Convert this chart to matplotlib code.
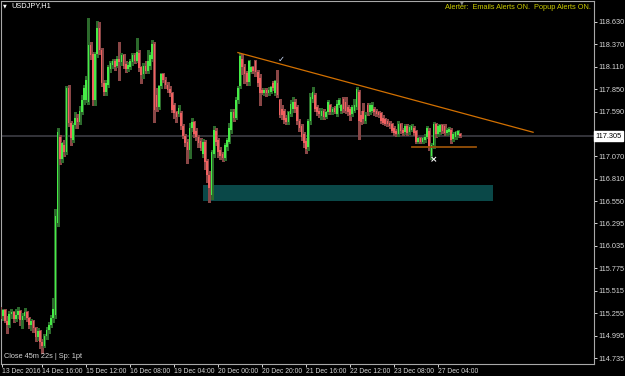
#!/usr/bin/env python3
"""plot.py - USDJPY H1 candles with a trendline, a support line and a zone (MT4 look).

Writes out.png (625x376).
"""
import matplotlib
matplotlib.use("Agg")
import matplotlib.pyplot as plt
from matplotlib.patches import Rectangle

SYMBOL = "USDJPY,H1"
ALERT_TEXT = "Alerter:  Emails Alerts ON.  Popup Alerts ON."
STATUS_TEXT = "Close 45m 22s | Sp: 1pt"

# one row of ten bars per line, oldest first
OPENS = [
    115.28, 115.22, 115.29, 115.17, 115.12, 115.25, 115.27, 115.19, 115.24, 115.28,
    115.18, 115.22, 115.27, 115.20, 115.12, 115.16, 115.09, 114.98, 115.05, 114.92,
    114.88, 114.99, 115.06, 115.12, 115.20, 115.24, 116.30, 117.30, 117.04, 117.20,
    117.12, 117.86, 117.46, 117.26, 117.43, 117.52, 117.47, 117.58, 117.72, 117.72,
    117.70, 118.36, 118.26, 117.72, 118.26, 118.56, 118.30, 117.92, 117.82, 117.90,
    118.08, 118.13, 118.17, 118.12, 118.20, 118.16, 118.24, 118.14, 118.08, 118.11,
    118.16, 118.24, 118.18, 118.27, 118.10, 118.02, 118.12, 118.06, 118.12, 118.20,
    118.37, 117.78, 117.64, 117.88, 118.02, 117.96, 117.90, 117.85, 117.80, 117.66,
    117.58, 117.56, 117.57, 117.42, 117.31, 117.24, 117.15, 117.40, 117.47, 117.36,
    117.30, 117.25, 117.10, 117.24, 117.02, 116.86, 116.62, 117.10, 117.36, 117.26,
    117.14, 117.10, 117.05, 117.18, 117.24, 117.38, 117.58, 117.52, 117.72, 117.88,
    118.20, 118.10, 118.04, 117.93, 118.05, 118.10, 118.18, 118.05, 117.98, 117.84,
    117.80, 117.84, 117.80, 117.82, 117.92, 117.80, 117.92, 117.72, 117.62, 117.60,
    117.52, 117.47, 117.56, 117.62, 117.70, 117.64, 117.48, 117.42, 117.33, 117.25,
    117.18, 117.48, 117.74, 117.78, 117.64, 117.60, 117.54, 117.60, 117.53, 117.58,
    117.66, 117.58, 117.63, 117.56, 117.66, 117.60, 117.74, 117.70, 117.64, 117.62,
    117.56, 117.60, 117.64, 117.82, 117.55, 117.60, 117.48, 117.66, 117.58, 117.60,
    117.62, 117.60, 117.58, 117.57, 117.52, 117.50, 117.48, 117.46, 117.44, 117.40,
    117.37, 117.33, 117.44, 117.38, 117.35, 117.42, 117.35, 117.38, 117.40, 117.36,
    117.24, 117.28, 117.24, 117.26, 117.30, 117.36, 117.08, 117.20, 117.44, 117.33,
    117.35, 117.43, 117.42, 117.34, 117.35, 117.38, 117.27, 117.29, 117.32, 117.33,
]
HIGHS = [
    115.33, 115.31, 115.30, 115.22, 115.28, 115.30, 115.28, 115.30, 115.33, 115.29,
    115.26, 115.32, 115.28, 115.21, 115.19, 115.18, 115.10, 115.08, 115.06, 114.96,
    115.02, 115.10, 115.15, 115.24, 115.43, 116.46, 117.40, 117.32, 117.24, 117.26,
    117.88, 117.90, 117.48, 117.46, 117.58, 117.56, 117.65, 117.78, 117.90, 118.00,
    118.67, 118.40, 118.28, 118.28, 118.64, 118.63, 118.32, 117.96, 117.96, 118.13,
    118.18, 118.20, 118.20, 118.23, 118.40, 118.27, 118.26, 118.17, 118.16, 118.20,
    118.27, 118.27, 118.44, 118.30, 118.12, 118.15, 118.17, 118.30, 118.28, 118.42,
    118.39, 117.86, 117.90, 118.04, 118.04, 117.99, 117.93, 117.88, 117.82, 117.69,
    117.60, 117.67, 117.60, 117.44, 117.33, 117.27, 117.46, 117.52, 117.48, 117.40,
    117.32, 117.28, 117.27, 117.26, 117.04, 116.90, 117.15, 117.42, 117.40, 117.28,
    117.18, 117.12, 117.22, 117.28, 117.46, 117.62, 117.62, 117.76, 117.88, 118.27,
    118.25, 118.14, 118.06, 118.19, 118.12, 118.12, 118.19, 118.07, 118.02, 117.86,
    117.86, 117.86, 117.87, 117.89, 117.94, 117.96, 118.07, 117.74, 117.66, 117.62,
    117.55, 117.60, 117.72, 117.76, 117.74, 117.66, 117.50, 117.45, 117.35, 117.28,
    117.50, 117.80, 117.87, 117.80, 117.67, 117.63, 117.63, 117.62, 117.60, 117.72,
    117.68, 117.64, 117.65, 117.72, 117.75, 117.68, 117.76, 117.76, 117.66, 117.64,
    117.66, 117.74, 117.87, 117.84, 117.60, 117.69, 117.58, 117.69, 117.69, 117.70,
    117.64, 117.62, 117.60, 117.59, 117.55, 117.52, 117.50, 117.48, 117.46, 117.42,
    117.39, 117.48, 117.46, 117.40, 117.44, 117.44, 117.43, 117.44, 117.42, 117.38,
    117.30, 117.30, 117.30, 117.33, 117.42, 117.40, 117.22, 117.47, 117.46, 117.45,
    117.45, 117.45, 117.44, 117.40, 117.41, 117.40, 117.35, 117.37, 117.38, 117.34,
]
LOWS = [
    115.20, 115.18, 115.15, 115.03, 115.10, 115.20, 115.15, 115.16, 115.20, 115.12,
    115.08, 115.19, 115.17, 115.08, 115.06, 115.04, 114.93, 114.94, 114.85, 114.80,
    114.86, 114.96, 115.03, 115.10, 115.15, 115.20, 116.27, 116.98, 117.00, 117.08,
    117.10, 117.42, 117.20, 117.24, 117.40, 117.40, 117.45, 117.56, 117.68, 117.70,
    117.68, 118.20, 117.66, 117.66, 118.22, 118.26, 117.88, 117.78, 117.78, 117.87,
    118.05, 118.09, 118.07, 118.10, 117.96, 118.13, 118.09, 118.05, 118.06, 118.08,
    118.13, 118.15, 118.16, 118.06, 117.92, 117.98, 118.03, 118.04, 118.08, 118.17,
    117.47, 117.60, 117.62, 117.86, 117.93, 117.86, 117.82, 117.77, 117.58, 117.52,
    117.47, 117.54, 117.39, 117.28, 117.19, 116.99, 117.05, 117.36, 117.30, 117.26,
    117.18, 117.15, 117.06, 116.92, 116.78, 116.54, 116.58, 117.06, 117.20, 117.06,
    117.04, 117.02, 117.03, 117.14, 117.22, 117.34, 117.48, 117.50, 117.69, 117.86,
    118.02, 117.92, 117.90, 117.90, 118.03, 118.04, 118.00, 117.88, 117.66, 117.79,
    117.78, 117.77, 117.78, 117.80, 117.84, 117.78, 117.76, 117.53, 117.50, 117.46,
    117.44, 117.45, 117.54, 117.58, 117.58, 117.45, 117.36, 117.26, 117.18, 117.11,
    117.15, 117.45, 117.70, 117.60, 117.55, 117.53, 117.50, 117.50, 117.51, 117.56,
    117.56, 117.56, 117.57, 117.54, 117.64, 117.57, 117.58, 117.57, 117.55, 117.49,
    117.54, 117.58, 117.62, 117.27, 117.44, 117.46, 117.46, 117.55, 117.56, 117.58,
    117.55, 117.54, 117.53, 117.46, 117.44, 117.43, 117.42, 117.40, 117.35, 117.32,
    117.31, 117.31, 117.34, 117.32, 117.33, 117.32, 117.33, 117.36, 117.32, 117.22,
    117.22, 117.22, 117.22, 117.24, 117.28, 117.14, 117.04, 117.17, 117.30, 117.31,
    117.33, 117.34, 117.32, 117.32, 117.33, 117.23, 117.25, 117.27, 117.30, 117.30,
]
CLOSES = [
    115.22, 115.29, 115.17, 115.12, 115.25, 115.27, 115.19, 115.24, 115.28, 115.18,
    115.22, 115.27, 115.20, 115.12, 115.16, 115.09, 114.98, 115.05, 114.92, 114.88,
    114.99, 115.06, 115.12, 115.20, 115.30, 116.38, 117.35, 117.04, 117.22, 117.12,
    117.86, 117.46, 117.28, 117.43, 117.52, 117.47, 117.60, 117.72, 117.86, 117.96,
    118.36, 118.24, 117.72, 118.26, 118.56, 118.30, 117.92, 117.82, 117.92, 118.10,
    118.15, 118.17, 118.10, 118.20, 118.16, 118.24, 118.12, 118.08, 118.13, 118.17,
    118.24, 118.18, 118.28, 118.09, 118.01, 118.12, 118.06, 118.18, 118.24, 118.37,
    117.61, 117.64, 117.88, 118.02, 117.96, 117.90, 117.84, 117.80, 117.61, 117.57,
    117.53, 117.63, 117.42, 117.31, 117.22, 117.15, 117.40, 117.47, 117.33, 117.29,
    117.22, 117.17, 117.24, 117.00, 116.85, 116.70, 117.12, 117.38, 117.24, 117.12,
    117.08, 117.05, 117.20, 117.26, 117.40, 117.58, 117.52, 117.72, 117.86, 118.23,
    118.10, 118.02, 117.93, 118.17, 118.10, 118.06, 118.05, 117.92, 117.80, 117.81,
    117.84, 117.80, 117.84, 117.87, 117.86, 117.94, 117.78, 117.55, 117.55, 117.49,
    117.47, 117.58, 117.68, 117.70, 117.62, 117.48, 117.40, 117.30, 117.22, 117.16,
    117.48, 117.76, 117.82, 117.62, 117.58, 117.56, 117.60, 117.53, 117.58, 117.70,
    117.58, 117.62, 117.59, 117.68, 117.72, 117.66, 117.62, 117.60, 117.58, 117.55,
    117.64, 117.67, 117.85, 117.48, 117.47, 117.50, 117.55, 117.58, 117.66, 117.67,
    117.58, 117.56, 117.55, 117.48, 117.46, 117.45, 117.44, 117.42, 117.37, 117.34,
    117.33, 117.45, 117.36, 117.34, 117.42, 117.34, 117.41, 117.42, 117.34, 117.24,
    117.28, 117.24, 117.28, 117.30, 117.40, 117.18, 117.20, 117.44, 117.33, 117.42,
    117.43, 117.36, 117.34, 117.38, 117.39, 117.26, 117.33, 117.35, 117.36, 117.305,
]

DATE_TICKS = [1.5, 20, 40, 60, 80, 100, 120, 140, 160, 180, 200]
DATE_LABELS = [
    "13 Dec 2016", "14 Dec 16:00", "15 Dec 12:00", "16 Dec 08:00",
    "19 Dec 04:00", "20 Dec 00:00", "20 Dec 20:00", "21 Dec 16:00",
    "22 Dec 12:00", "23 Dec 08:00", "27 Dec 04:00",
]
# 117.330 sits under the last-price box, so it is left out
PRICE_TICKS = [
    118.630, 118.370, 118.110, 117.850, 117.590, 117.070, 116.810,
    116.550, 116.295, 116.035, 115.775, 115.515, 115.255, 114.995, 114.735,
]
LAST_PRICE = 117.305

# drawn objects, in (bar, price)
TREND_BARS = [109.0, 243.3]
TREND_PRICES = [118.272, 117.350]
SUPPORT_BARS = [188.2, 217.2]
SUPPORT_PRICE = 117.18
ZONE_BARS = [93.1, 224.9]
ZONE_PRICES = [116.555, 116.740]
CHECK_MARK = (128.6, 118.19)
CROSS_MARK = (198.2, 117.03)

BG = "black"
BULL, BULL_WICK = "#46ec46", "#2c6a2c"
BEAR, BEAR_WICK = "#f06060", "#8a4646"
TXT = "#d6d6d6"
FS = 5.3
FS_DATE = 4.9


def draw_candles(ax):
    xs = list(range(1, len(CLOSES) + 1))
    up = [c >= o for o, c in zip(OPENS, CLOSES)]
    wick_cols = [BULL_WICK if u else BEAR_WICK for u in up]
    body_cols = [BULL if u else BEAR for u in up]
    ax.vlines(xs, LOWS, HIGHS, colors=wick_cols, lw=0.75, zorder=3, antialiased=False)
    bottoms = [min(o, c) for o, c in zip(OPENS, CLOSES)]
    heights = [max(abs(c - o), 0.012) for o, c in zip(OPENS, CLOSES)]
    ax.bar(xs, heights, bottom=bottoms, width=0.75, color=body_cols,
           linewidth=0, zorder=4, antialiased=False)


def main():
    plt.rcParams["font.family"] = ["Liberation Sans", "DejaVu Sans"]
    fig = plt.figure(figsize=(6.25, 3.76), dpi=100, facecolor=BG)
    ax = fig.add_axes([1 / 625, 12 / 376, 593 / 625, 363 / 376], facecolor=BG)

    ax.set_xlim(1.23, 271.0)
    ax.set_ylim(114.668, 118.869)

    # background objects
    ax.add_patch(Rectangle((ZONE_BARS[0], ZONE_PRICES[0]), ZONE_BARS[1] - ZONE_BARS[0],
                           ZONE_PRICES[1] - ZONE_PRICES[0], facecolor="#0a4848",
                           edgecolor="none", zorder=1))
    ax.axhline(LAST_PRICE, color="#38383f", lw=1.3, zorder=1)

    draw_candles(ax)

    ax.plot(TREND_BARS, TREND_PRICES, color="#d27000", lw=0.9, zorder=5)
    ax.plot(SUPPORT_BARS, [SUPPORT_PRICE] * 2, color="#965008", lw=1.3, zorder=5)
    ax.text(*CHECK_MARK, "\u2713", color="#cfe0ff", fontsize=6, ha="center", va="center",
            family=["DejaVu Sans"], zorder=6)
    ax.text(*CROSS_MARK, "\u00d7", color="white", fontsize=6.5, ha="center", va="center",
            fontweight="bold", family=["DejaVu Sans"], zorder=6)

    # axes look
    for sp in ax.spines.values():
        sp.set_color("#a8a8a8")
        sp.set_linewidth(0.8)
    ax.yaxis.tick_right()
    ax.set_yticks(PRICE_TICKS, [f"{p:.3f}" for p in PRICE_TICKS])
    ax.tick_params(axis="y", colors=TXT, length=2, width=0.7, pad=1.5, labelsize=FS)
    ax.set_xticks(DATE_TICKS, DATE_LABELS)
    ax.tick_params(axis="x", colors=TXT, length=2, width=0.7, pad=0.8, labelsize=FS_DATE)
    for lbl in ax.get_xticklabels():
        lbl.set_ha("left")

    ax.text(1.0025, LAST_PRICE, f"{LAST_PRICE:.3f}", transform=ax.get_yaxis_transform(),
            ha="left", va="center", fontsize=FS, color="black", zorder=10, clip_on=False,
            bbox=dict(boxstyle="square,pad=0.25", fc="white", ec="white"))

    # header / footer texts
    fig.text(5 / 625, 1 - 6 / 376, "\u25bc", color="white", fontsize=3.5,
             ha="center", va="center", family=["DejaVu Sans"])
    fig.text(11 / 625, 1 - 6 / 376, SYMBOL, color="white", fontsize=FS, ha="left", va="center")
    fig.text(462 / 625, 1 - 2.5 / 376, "\u25bc", color="#8a8a8a", fontsize=3.5,
             ha="center", va="center", family=["DejaVu Sans"])
    fig.text(591 / 625, 1 - 7.5 / 376, ALERT_TEXT, color="#cccc00", fontsize=FS,
             ha="right", va="center")
    fig.text(4 / 625, 1 - 357 / 376, STATUS_TEXT, color=TXT, fontsize=FS, ha="left", va="center")

    fig.savefig("out.png", dpi=100, facecolor=BG)


if __name__ == "__main__":
    main()
